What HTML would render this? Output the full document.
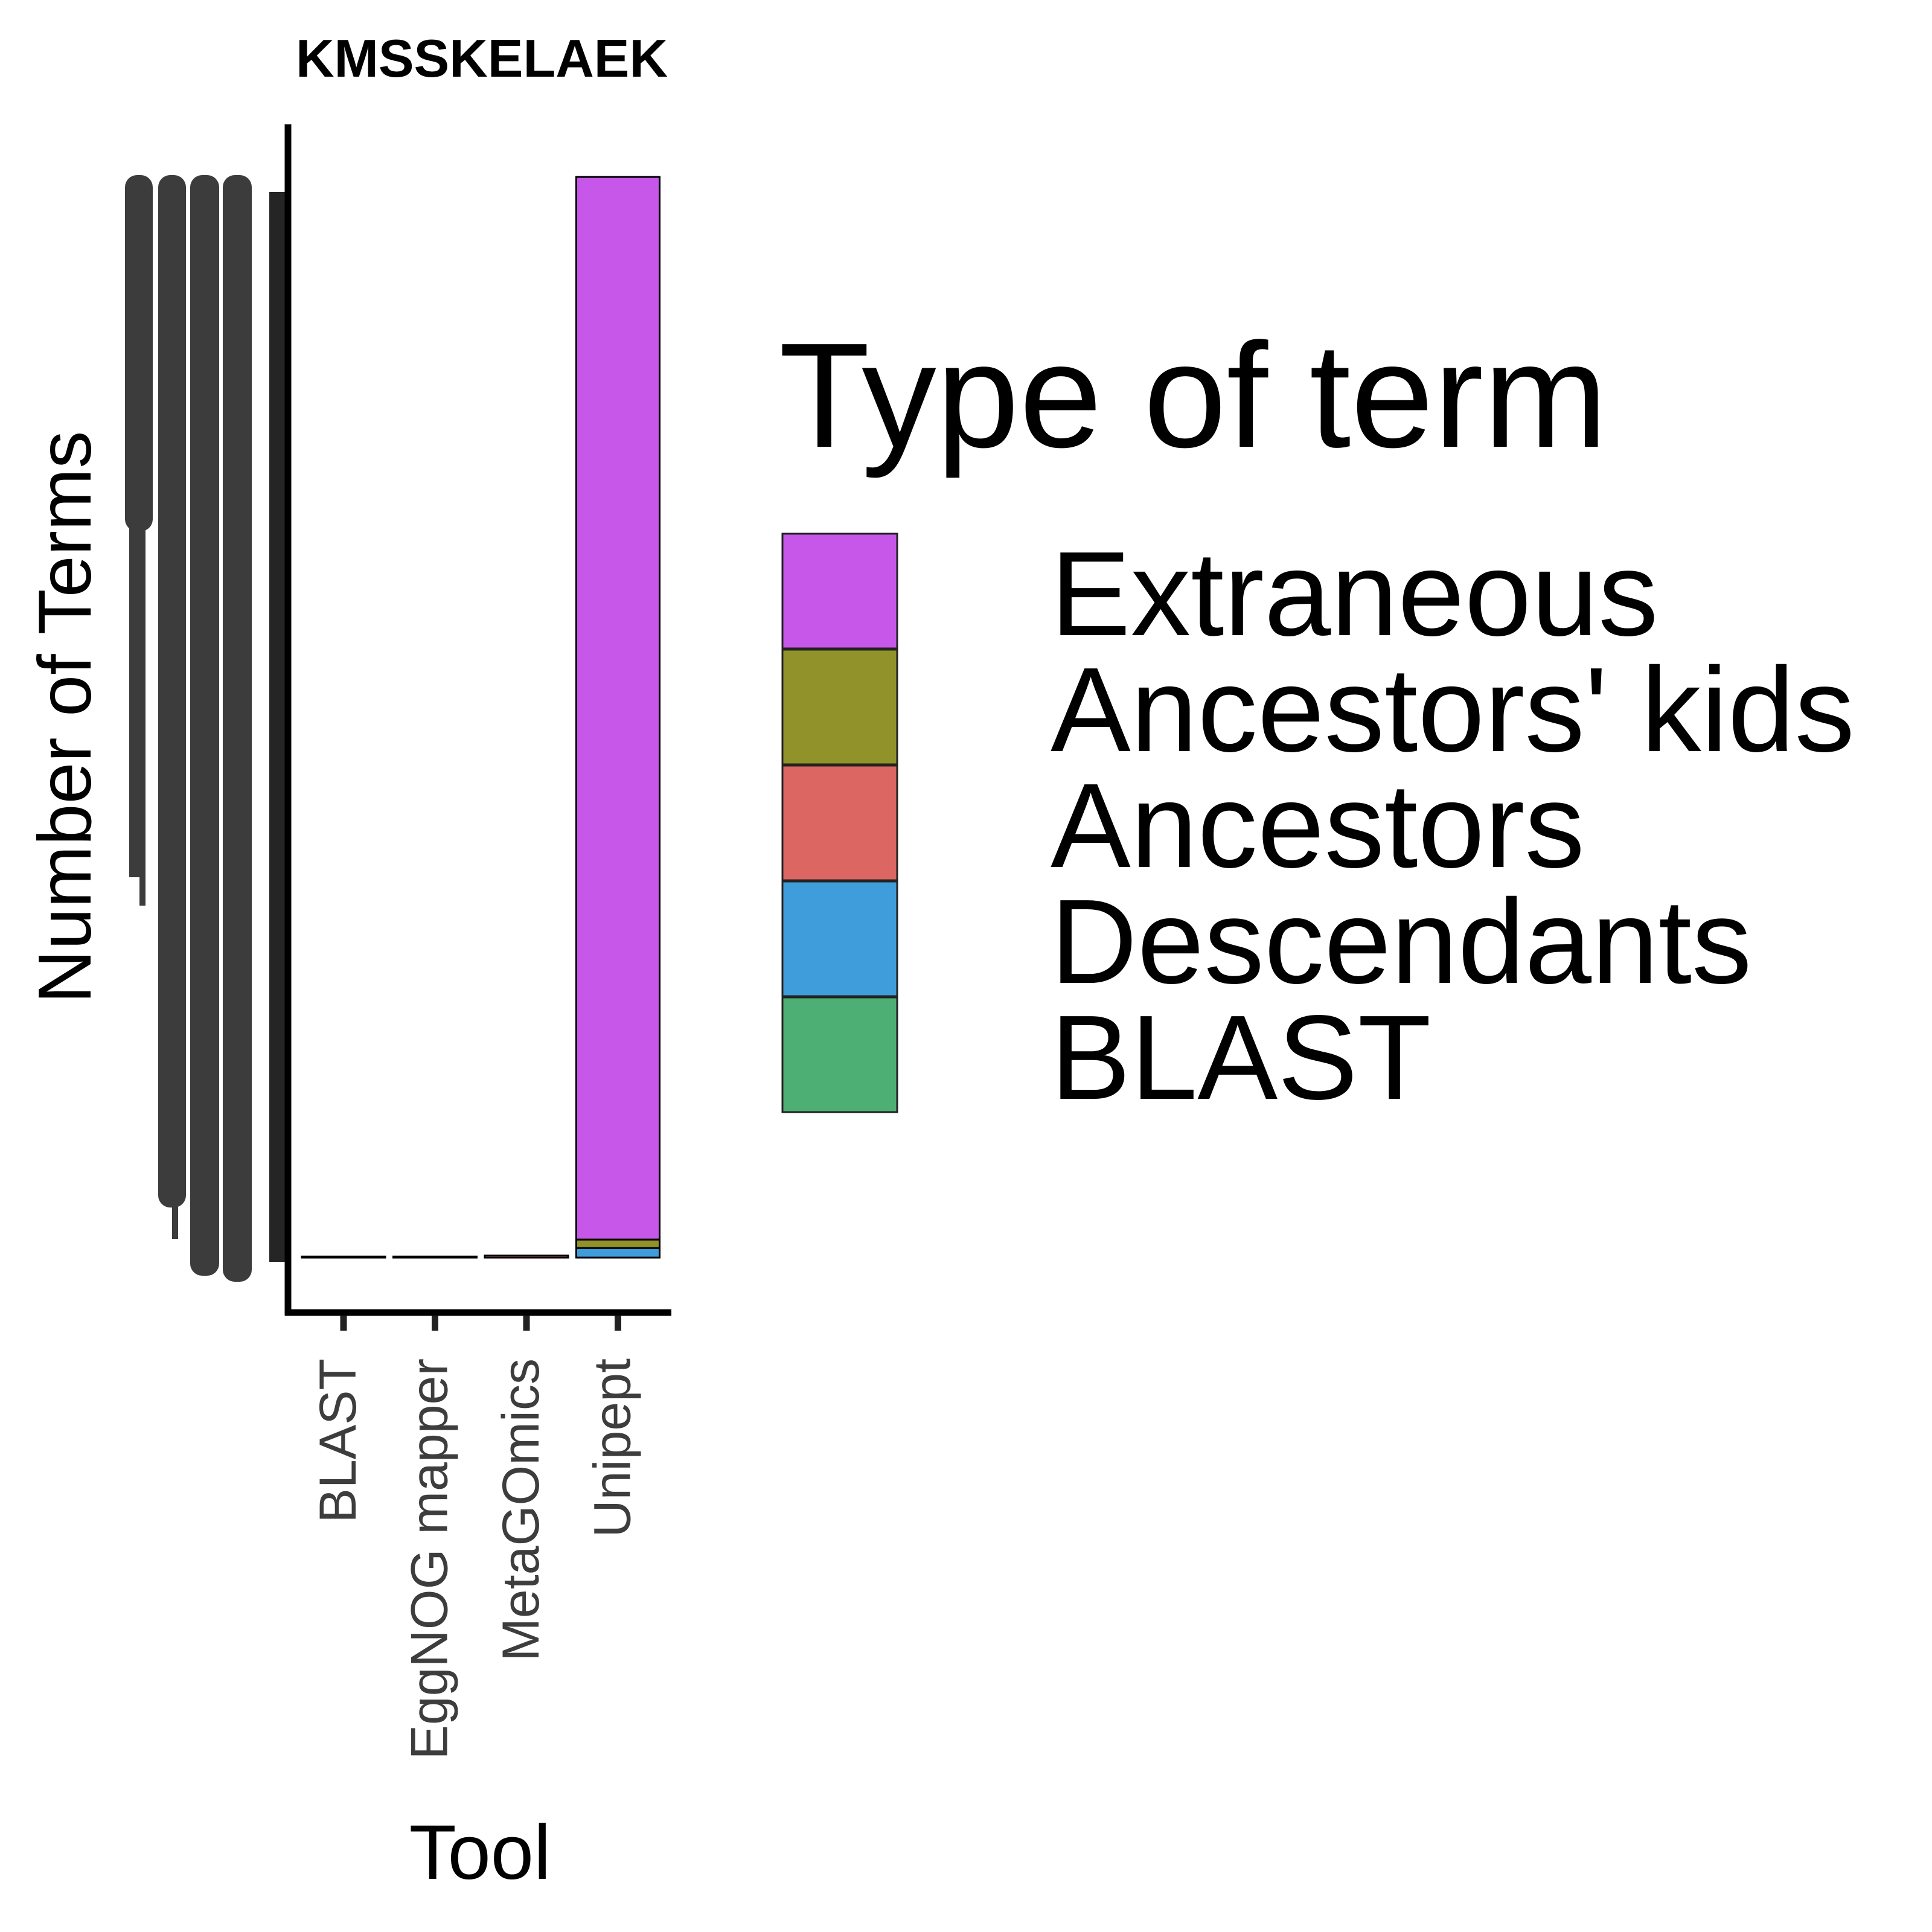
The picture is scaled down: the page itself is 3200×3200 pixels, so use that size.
<!DOCTYPE html>
<html><head><meta charset="utf-8"><style>
html,body{margin:0;padding:0;background:#fff}
svg{display:block}
text{font-family:"Liberation Sans",sans-serif}
</style></head><body>
<svg id="chart" width="3200" height="3200" viewBox="0 0 3200 3200" xmlns="http://www.w3.org/2000/svg">
<rect width="3200" height="3200" fill="#fff"/>
<text x="798" y="127" font-size="88" font-weight="bold" text-anchor="middle">KMSSKELAEK</text>
<g id="ylabels" fill="#3c3c3c">
<rect x="207" y="290" width="46" height="590" rx="20"/>
<rect x="214" y="850" width="27" height="603"/>
<rect x="231" y="1440" width="10" height="60"/>
<rect x="262" y="290" width="46" height="1710" rx="20"/>
<rect x="285" y="1990" width="10" height="62"/>
<rect x="315" y="290" width="48" height="1823" rx="20"/>
<rect x="369" y="290" width="48" height="1833" rx="20"/>
<rect x="446" y="318" width="31" height="1772" fill="#252525"/>
</g>
<text transform="translate(150,1188) rotate(-90)" font-size="124" text-anchor="middle">Number of Terms</text>
<g id="bars"></g>
<line x1="477" y1="206" x2="477" y2="2179" stroke="#000" stroke-width="11"/>
<line x1="472" y1="2174" x2="1112" y2="2174" stroke="#000" stroke-width="11"/>
<g id="xticks"></g>
<text x="795" y="3112" font-size="128" text-anchor="middle">Tool</text>
<text x="1290" y="740" font-size="247">Type of term</text>
<g id="legend"></g>
</svg>
<script>
const tools = ["BLAST","EggNOG mapper","MetaGOmics","Unipept"];
const types = ["BLAST","Descendants","Ancestors","Ancestors' kids","Extraneous"];
const colors = ["#4daf74","#409ddc","#dc6662","#92922a","#c757e9"];
const valBLAST = [1,0,0,0,0];
const valEggNOG = [1,0,0,0,0];
const valMetaGOmics = [0,0,2,0,0];
const valUnipept = [0,9,0,8,1000];
const legendOrder = ["Extraneous","Ancestors' kids","Ancestors","Descendants","BLAST"];

const NS="http://www.w3.org/2000/svg";
const y0=2083, pxPerUnit=1.76, x0=500, band=151.5, barW=138;
const xs = i => x0 + band*i;
const yv = v => v*pxPerUnit;
const series=[valBLAST,valEggNOG,valMetaGOmics,valUnipept];
const gb=document.getElementById('bars');
series.forEach((vals,i)=>{
  let acc=0;
  vals.forEach((v,j)=>{
    if(v<=0) return;
    const r=document.createElementNS(NS,'rect');
    
    
    const h=yv(v);
    r.setAttribute('x',xs(i));
    r.setAttribute('y',y0-acc-h);
    r.setAttribute('width',barW);
    r.setAttribute('height',h);
    r.setAttribute('fill',colors[j]);
    r.setAttribute('stroke','#000');
    r.setAttribute('stroke-width','3');
    gb.appendChild(r);
    acc+=h;
  });
});
const gt=document.getElementById('xticks');
tools.forEach((t,i)=>{
  const cx=xs(i)+barW/2;
  const l=document.createElementNS(NS,'line');
  
  
  l.setAttribute('x1',cx);l.setAttribute('x2',cx);
  l.setAttribute('y1',2179);l.setAttribute('y2',2204);
  l.setAttribute('stroke','#222');l.setAttribute('stroke-width','11');
  gt.appendChild(l);
  const tx=document.createElementNS(NS,'text');
  
  
  tx.setAttribute('transform','translate('+(cx+20)+',2250) rotate(-90)');
  tx.setAttribute('font-size','86');
  tx.setAttribute('fill','#3d3d3d');
  tx.setAttribute('text-anchor','end');
  tx.textContent=t;
  gt.appendChild(tx);
});
const gl=document.getElementById('legend');
legendOrder.forEach((name,k)=>{
  const j=types.indexOf(name);
  const r=document.createElementNS(NS,'rect');
  
  
  r.setAttribute('x',1296);r.setAttribute('y',884+k*192);
  r.setAttribute('width',190);r.setAttribute('height',190);
  r.setAttribute('fill',colors[j]);r.setAttribute('stroke','#222');r.setAttribute('stroke-width','3');
  gl.appendChild(r);
  const t=document.createElementNS(NS,'text');
  
  
  t.setAttribute('x',1740);t.setAttribute('y',1052+k*192);
  t.setAttribute('font-size','199');
  t.textContent=name;
  gl.appendChild(t);
});
</script>
</body></html>
